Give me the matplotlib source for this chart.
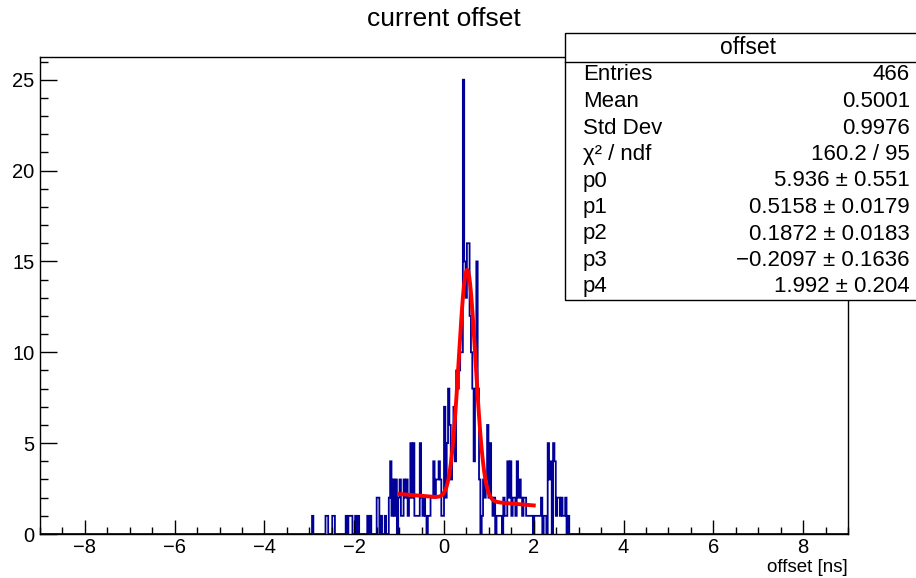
import numpy as np
import matplotlib
matplotlib.use("Agg")
import matplotlib.pyplot as plt
from matplotlib.ticker import MultipleLocator

plt.rcParams["font.family"] = ["Liberation Sans", "DejaVu Sans"]

# histogram: 600 bins of 0.03 ns on [-9, 9]; only bins from -3.0 ns up hold entries
X_MIN, X_MAX, N_BINS = -9.0, 9.0, 600
FIRST_BIN = 200   # bin whose low edge is -3.0 ns
COUNTS = [
    0, 0, 1, 0, 0, 0, 0, 0, 0, 0,
    0, 0, 1, 1, 0, 0, 0, 1, 1, 0,
    0, 0, 0, 0, 0, 0, 0, 1, 0, 1,
    1, 1, 0, 0, 1, 0, 1, 0, 0, 0,
    0, 0, 0, 1, 0, 1, 0, 0, 0, 0,
    2, 2, 0, 1, 0, 0, 1, 0, 0, 2,
    4, 1, 3, 1, 3, 0, 2, 3, 1, 1,
    3, 2, 3, 1, 2, 5, 2, 5, 1, 1,
    1, 1, 5, 2, 1, 2, 1, 0, 1, 1,
    2, 2, 4, 2, 3, 3, 4, 3, 1, 1,
    7, 2, 5, 8, 6, 3, 5, 7, 4, 9,
    8, 9, 10, 10, 25, 15, 13, 16, 16, 12,
    10, 8, 4, 8, 15, 8, 3, 0, 1, 3,
    2, 3, 6, 2, 5, 2, 1, 2, 0, 1,
    1, 1, 1, 0, 2, 1, 1, 4, 2, 4,
    1, 2, 2, 1, 4, 2, 3, 2, 1, 2,
    2, 1, 1, 1, 1, 1, 0, 1, 1, 1,
    1, 1, 2, 0, 1, 1, 0, 5, 3, 4,
    0, 5, 4, 1, 2, 2, 1, 2, 1, 1,
    2, 0, 1, 0, 0,
]

# gausn + pol1 fit result
P0, P1, P2, P3, P4 = 5.936, 0.5158, 0.1872, -0.2097, 1.992
FIT_RANGE = (-1.0, 2.0)

STAT_LABELS = ["Entries", "Mean", "Std Dev", "χ² / ndf", "p0", "p1", "p2", "p3", "p4"]
STAT_VALUES = ["466", "0.5001", "0.9976", "160.2 / 95",
               "5.936 ± 0.551", "0.5158 ± 0.0179", "0.1872 ± 0.0183",
               "−0.2097 ± 0.1636", "1.992 ± 0.204"]

edges = np.linspace(X_MIN, X_MAX, N_BINS + 1)
counts = np.zeros(N_BINS)
counts[FIRST_BIN:FIRST_BIN + len(COUNTS)] = COUNTS

def fit_func(x):
    gaus = P0 / (np.sqrt(2 * np.pi) * P2) * np.exp(-0.5 * ((x - P1) / P2) ** 2)
    return gaus + P3 * x + P4

fig = plt.figure(figsize=(9.16, 5.78), dpi=100)
ax = fig.add_axes([40 / 916, 1 - 534 / 578, 808 / 916, 477 / 578])

ax.stairs(counts, edges, color="#000099", lw=1.3)
xf = np.linspace(FIT_RANGE[0], FIT_RANGE[1], 400)
ax.plot(xf, fit_func(xf), color="red", lw=2.8)

ax.set_xlim(X_MIN, X_MAX)
ax.set_ylim(0, 1.05 * counts.max())
ax.xaxis.set_major_locator(MultipleLocator(2))
ax.xaxis.set_minor_locator(MultipleLocator(0.5))
ax.yaxis.set_major_locator(MultipleLocator(5))
ax.yaxis.set_minor_locator(MultipleLocator(1))
ax.tick_params(which="both", direction="in", top=False, right=False,
               labelsize=14.5, width=1)
ax.tick_params(axis="x", which="major", length=10, pad=3)
ax.tick_params(axis="x", which="minor", length=5)
ax.tick_params(axis="y", which="major", length=12, pad=4)
ax.tick_params(axis="y", which="minor", length=6)
for s in ax.spines.values():
    s.set_linewidth(1)

fig.text(444 / 916, 1 - 19 / 578, "current offset", ha="center", va="center", fontsize=19)
fig.text(848 / 916, 1 - 567 / 578, "offset [ns]", ha="right", va="center", fontsize=13.5)

# stats box, running off the right edge of the canvas
bx0, bx1, by0, by1 = 565 / 916, 931 / 916, 1 - 300 / 578, 1 - 33 / 578
box = plt.Rectangle((bx0, by0), bx1 - bx0, by1 - by0, transform=fig.transFigure,
                    facecolor="white", edgecolor="black", lw=1, zorder=5)
fig.add_artist(box)
sep = 1 - 62 / 578
fig.add_artist(plt.Line2D([bx0, bx1], [sep, sep], transform=fig.transFigure,
                          color="black", lw=1, zorder=6))
fig.text((bx0 + bx1) / 2, 1 - 48 / 578, "offset", ha="center", va="center",
         fontsize=16.5, zorder=7)
row_y = 75
for lab, val in zip(STAT_LABELS, STAT_VALUES):
    y = 1 - row_y / 578
    fig.text(583 / 916, y, lab, ha="left", va="center", fontsize=16, zorder=7)
    fig.text(910 / 916, y, val, ha="right", va="center", fontsize=16, zorder=7)
    row_y += 26.5

fig.savefig("out.png", dpi=100)
